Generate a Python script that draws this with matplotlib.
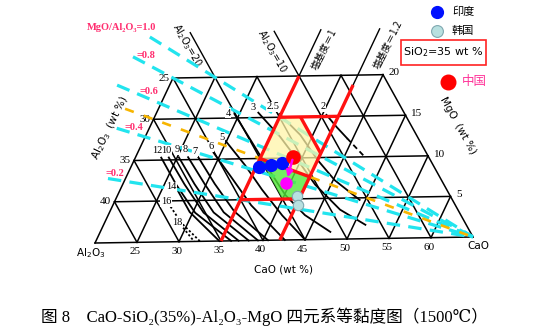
import matplotlib
matplotlib.use("Agg")
import matplotlib.pyplot as plt
from matplotlib.transforms import Affine2D
from matplotlib.patches import Polygon, Rectangle
import numpy as np

# Section of CaO-SiO2-Al2O3-MgO at SiO2 = 35 wt%:  CaO + Al2O3 + MgO = 65
TOTAL = 65.0

cao_ticks = [25, 30, 35, 40, 45, 50, 55, 60]
al2o3_ticks = [25, 30, 35, 40]
mgo_ticks = [5, 10, 15, 20]

# MgO/Al2O3 ratio lines (through the CaO corner) and CaO where each starts
ratio_values = [1.0, 0.8, 0.6, 0.4, 0.2]
ratio_start_cao = [14.9, 14.0, 13.7, 16.1, 17.9]
ratio_labels = ["MgO/Al₂O₃=1.0", "=0.8", "=0.6", "=0.4", "=0.2"]
ratio_half = 0.5
ratio_half_start = 16.0

# iso-viscosity curves (poise), points as (CaO, MgO)
iso_levels = ["2", "2.5", "3", "4", "5", "6", "7", "8", "9", "10", "12", "14", "16", "18"]
iso_curves = {
    "2":   [(40.5, 15.2), (42.4, 13.7), (44.3, 12.3)],
    "2.5": [(34.8, 15.4), (38.5, 12.8), (42.0, 9.7), (45.2, 7.2), (49.3, 4.75)],
    "3":   [(32.2, 15.6), (36.2, 12.6), (40.0, 9.4), (43.1, 6.7), (47.5, 3.6), (51.4, 1.7)],
    "4":   [(29.4, 15.5), (32.8, 12.3), (36.5, 8.8), (40.1, 5.5), (43.6, 3.0), (47.6, 0.9)],
    "5":   [(29.9, 12.2), (33.6, 9.2), (37.0, 6.2), (40.9, 3.0), (45.0, 0.0)],
    "6":   [(29.1, 10.8), (32.7, 7.7), (36.6, 4.3), (42.6, 0.0)],
    "7":   [(27.5, 10.3), (31.0, 7.0), (34.9, 3.6), (40.6, 0.0)],
    "8":   [(26.3, 10.3), (29.8, 7.0), (33.7, 3.5), (39.4, 0.0)],
    "9":   [(25.2, 10.3), (28.6, 7.0), (32.5, 3.5), (38.3, 0.0)],
    "10":  [(24.0, 10.3), (27.4, 7.0), (31.3, 3.5), (37.1, 0.0)],
    "12":  [(23.1, 10.3), (26.4, 7.0), (30.3, 3.5), (36.2, 0.0)],
    "14":  [(27.0, 6.2), (29.6, 3.6), (34.8, 0.0)],
    "16":  [(27.0, 4.3), (29.2, 2.3), (32.5, 0.0)],
    "18":  [(29.7, 1.7), (31.8, 0.0)],
}
iso_dashed = {"2": [(44.3, 12.3), (47.6, 9.9)]}
iso_dotted = ["16", "18"]
iso_label_pos = {
    "2": (39.6, 16.2), "2.5": (33.6, 16.3), "3": (31.3, 16.3), "4": (28.6, 15.6),
    "5": (29.2, 12.7), "6": (28.5, 11.5), "7": (26.8, 10.95), "8": (25.5, 11.2),
    "9": (24.6, 11.2), "10": (23.3, 11.2), "12": (22.2, 11.2), "14": (26.0, 6.7),
    "16": (26.2, 4.9), "18": (28.7, 2.35),
}

# basicity limits CaO/SiO2 = 1 and 1.2 -> CaO = 35 and 42
basicity_low, basicity_high = 35.0, 42.0
mgo_low, mgo_high = 5.0, 15.0
al2o3_cut = 12.5

# plant slag compositions (CaO, MgO)
india = [(35.4, 9.0), (36.7, 9.2), (37.9, 9.4)]
korea = [(41.5, 5.4), (42.2, 4.3)]
china = (38.9, 10.1)
china_target = (39.5, 7.0)

plt.rcParams["mathtext.fontset"] = "dejavusans"

fig = plt.figure(figsize=(5.55, 3.33), dpi=100)
ax = fig.add_axes([0, 0, 1, 1])
ax.set_xlim(0, 555)
ax.set_ylim(333, 0)
ax.axis("off")

# (CaO, MgO) -> drawing plane
tern = Affine2D.from_values(8.4, -0.1333, 3.9, -8.25, -73.0, 245.67) + ax.transData


def al_line(a, m0, m1):
    m = np.array([m0, m1])
    return TOTAL - a - m, m


def ratio_m(c, r):
    return r * (TOTAL - c) / (1 + r)


# triangular grid, MgO from 0 to 20
for m in [0, 5, 10, 15, 20]:
    ax.plot([20, TOTAL - m], [m, m], color="black", lw=1.1, transform=tern, zorder=2)
for c in range(20, 65, 5):
    ax.plot([c, c], [0, min(20, TOTAL - c)], color="black", lw=1.1, transform=tern, zorder=2)
for a in range(0, 50, 5):
    x, y = al_line(a, 0, min(20, 45 - a))
    ax.plot(x, y, color="black", lw=1.1, transform=tern, zorder=2)
# lines continued above MgO = 20
for a in [20, 10]:
    x, y = al_line(a, 20, 25.5)
    ax.plot(x, y, color="black", lw=1.0, transform=tern, zorder=2)
ax.plot([basicity_low, basicity_low], [20, 25.6], color="black", lw=1.0, transform=tern, zorder=2)
ax.plot([basicity_high, basicity_high], [18.5, 25.6], color="black", lw=1.0, transform=tern, zorder=2)

# ratio lines
for r, c0 in zip(ratio_values, ratio_start_cao):
    c = np.array([c0, TOTAL])
    ax.plot(c, ratio_m(c, r), color="#22e4ee", lw=2.3,
            dashes=(4.2, 2.6), transform=tern, zorder=4)
c = np.array([ratio_half_start, TOTAL])
ax.plot(c, ratio_m(c, ratio_half), color="#f7b500", lw=1.9,
        dashes=(3.5, 4.0), transform=tern, zorder=4)

# iso-viscosity curves
for lev in iso_levels:
    pts = np.array(iso_curves[lev])
    ls = (0, (1.2, 1.2)) if lev in iso_dotted else "-"
    ax.plot(pts[:, 0], pts[:, 1], color="black", lw=1.3, ls=ls, transform=tern, zorder=3)
    lx, ly = iso_label_pos[lev]
    ax.text(lx, ly, lev, transform=tern, fontsize=7.5, family="Liberation Serif",
            ha="center", va="center", zorder=6,
            bbox=dict(boxstyle="square,pad=0.05", fc="white", ec="none"))
for lev, pts in iso_dashed.items():
    pts = np.array(pts)
    ax.plot(pts[:, 0], pts[:, 1], color="black", lw=1.3, dashes=(3, 2), transform=tern, zorder=3)

# recommended window
c_top = TOTAL - al2o3_cut - mgo_high
m_side = TOTAL - al2o3_cut - basicity_high
yellow = [(basicity_low, mgo_high), (c_top, mgo_high), (basicity_high, m_side),
          (basicity_high, ratio_m(basicity_high, ratio_half)),
          (basicity_low, ratio_m(basicity_low, ratio_half))]
ax.add_patch(Polygon(yellow, closed=True, fc="#fff5a8", ec="none", alpha=0.75,
                     transform=tern, zorder=5))
green = [(basicity_low, ratio_m(basicity_low, ratio_half)),
         (basicity_high, ratio_m(basicity_high, ratio_half)),
         (basicity_high, mgo_low), (TOTAL - 20 - mgo_low, mgo_low)]
ax.add_patch(Polygon(green, closed=True, fc="#52e83a", ec="none", alpha=0.8,
                     transform=tern, zorder=5))

red_kw = dict(color="#ff1111", lw=2.4, transform=tern, zorder=7, solid_capstyle="butt")
ax.plot([basicity_low, basicity_low], [0, 20], **red_kw)
ax.plot([basicity_high, basicity_high], [0, 18.8], **red_kw)
ax.plot([basicity_low, basicity_high], [mgo_high, mgo_high], **red_kw)
ax.plot([basicity_low, basicity_high], [mgo_low, mgo_low], **red_kw)
ax.plot([c_top, basicity_high], [mgo_high, m_side], **red_kw)
ax.plot([basicity_low, basicity_high],
        [ratio_m(basicity_low, ratio_half), ratio_m(basicity_high, ratio_half)], **red_kw)

# slag points
ax.annotate("", xy=china_target, xytext=china, xycoords=tern, textcoords=tern,
            arrowprops=dict(arrowstyle="-|>", color="#ff00ff", lw=1.8, mutation_scale=9,
                            shrinkA=2, shrinkB=4), zorder=9)
for c, m in india:
    ax.plot(c, m, "o", ms=8.5, mfc="#0010ff", mec="#0010ff", transform=tern, zorder=8)
for c, m in korea:
    ax.plot(c, m, "o", ms=7.5, mfc="#b8e0e0", mec="#7fa8b0", mew=0.8, transform=tern, zorder=8)
ax.plot(*china, "o", ms=9.5, mfc="#ff0000", mec="#ff0000", transform=tern, zorder=8)
ax.plot(*china_target, "o", ms=8, mfc="#ff00ff", mec="#ff00ff", transform=tern, zorder=10)

# tick labels
tick_font = dict(family="Liberation Serif", fontsize=8)
for c in cao_ticks:
    ax.text(c, -0.6, str(c), transform=tern, ha="center", va="top", **tick_font)
for a in al2o3_ticks:
    m = 45 - a
    ax.text(20 - 0.4, m, str(a), transform=tern, ha="right", va="center", **tick_font)
for m in mgo_ticks:
    ax.text(TOTAL - m + 0.6, m + 0.2, str(m), transform=tern, ha="left", va="center", **tick_font)

ax.text(91, 253, "Al$_2$O$_3$", ha="center", va="center", family="DejaVu Sans", fontsize=7.5)
ax.text(478, 246, "CaO", ha="center", va="center", family="DejaVu Sans", fontsize=7.5)
ax.text(283, 269, "CaO (wt %)", ha="center", va="center", family="DejaVu Sans", fontsize=7.5)
ax.text(110, 128, "Al$_2$O$_3$  (wt %)", ha="center", va="center", rotation=64,
        family="DejaVu Sans", fontsize=7.5)
ax.text(458, 126, "MgO  (wt %)", ha="center", va="center", rotation=-61,
        family="DejaVu Sans", fontsize=7.5)

# labels along the extended lines
ax.text(187, 46, "Al$_2$O$_3$=20", ha="center", va="center", rotation=-60, fontsize=7,
        family="DejaVu Sans")
ax.text(272, 52, "Al$_2$O$_3$=10", ha="center", va="center", rotation=-60, fontsize=7,
        family="DejaVu Sans")
ax.text(324, 49, "塩基度＝1", ha="center", va="center", rotation=63, fontsize=7,
        family=["Noto Sans CJK JP"])
ax.text(388, 45, "塩基度＝1.2", ha="center", va="center", rotation=63, fontsize=7,
        family=["Noto Sans CJK JP"])

# ratio labels
pink = "#ff2d6f"
label_xy = [(122, 28), (146, 55), (149, 92), (134, 128), (115, 174)]
for (x, y), t in zip(label_xy, ratio_labels):
    ax.text(x, y, t, color=pink, fontsize=7.5, fontweight="bold",
            family=["Liberation Serif", "DejaVu Serif"], ha="center", va="center")

# legend
ax.plot(437, 12, "o", ms=8.5, mfc="#0010ff", mec="#0010ff", zorder=8)
ax.text(452, 12, "印度", va="center", ha="left", fontsize=8, family=["Noto Sans CJK SC"])
ax.plot(437, 31, "o", ms=8.5, mfc="#b8e0e0", mec="#7fa8b0", mew=0.8, zorder=8)
ax.text(452, 31, "韩国", va="center", ha="left", fontsize=8, family=["Noto Sans CJK SC"])
ax.add_patch(Rectangle((401, 40), 85, 25, fill=False, ec="#ff2222", lw=1.2))
ax.text(443.5, 52.5, "SiO$_2$=35 wt %", ha="center", va="center", fontsize=8,
        family="DejaVu Sans")
ax.plot(448, 82, "o", ms=10.5, mfc="#ff0000", mec="#ff0000", zorder=8)
ax.text(462, 82, "中国", va="center", ha="left", fontsize=9, color="#ff3399",
        family=["Noto Sans CJK SC"])

# caption
ax.text(264, 317, "图 8    CaO-SiO₂(35%)-Al₂O₃-MgO 四元系等黏度图（1500℃）",
        ha="center", va="center", fontsize=12,
        family=["Liberation Serif", "DejaVu Serif", "Noto Sans CJK SC"])

fig.savefig("out.png", dpi=100)
